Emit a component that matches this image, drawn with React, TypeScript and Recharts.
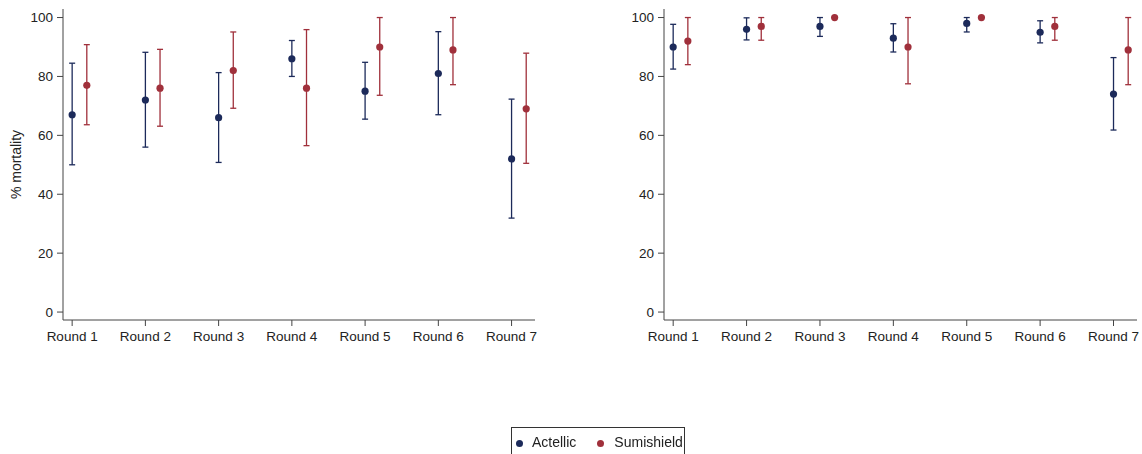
import React from "react";
import { ErrorBar, Scatter, ScatterChart, XAxis, YAxis } from "recharts";

const rounds = ["Round 1", "Round 2", "Round 3", "Round 4", "Round 5", "Round 6", "Round 7"];
const yTicks = [0, 20, 40, 60, 80, 100];

// left panel
const leftActellic = [67, 72, 66, 86, 75, 81, 52];
const leftActellicLo = [50, 56, 50.8, 80, 65.5, 67, 31.9];
const leftActellicHi = [84.5, 88.2, 81.3, 92.2, 84.8, 95.2, 72.3];
const leftSumishield = [77, 76, 82, 76, 90, 89, 69];
const leftSumishieldLo = [63.6, 63.1, 69.2, 56.5, 73.6, 77.2, 50.5];
const leftSumishieldHi = [90.8, 89.2, 95.1, 95.9, 100, 100, 87.9];

// right panel
const rightActellic = [90, 96, 97, 93, 98, 95, 74];
const rightActellicLo = [82.5, 92.4, 93.6, 88.3, 95.1, 91.4, 61.8];
const rightActellicHi = [97.7, 99.9, 100, 97.9, 100, 98.9, 86.4];
const rightSumishield = [92, 97, 100, 90, 100, 97, 89];
const rightSumishieldLo = [84, 92.3, 100, 77.5, 100, 92.3, 77.2];
const rightSumishieldHi = [100, 100, 100, 100, 100, 100, 100];

const NAVY = "#1c2a5a";
const RED = "#a0303b";
const AXIS = "#444";
const FONT = "'Liberation Sans', Arial, sans-serif";

function toPoints(vals: number[], lo: number[], hi: number[], offset: number) {
  return vals.map((v, i) => ({ x: i + 1 + offset, y: v, err: [v - lo[i], hi[i] - v] }));
}

const dot = (color: string) => (p: any) => <circle cx={p.cx} cy={p.cy} r={3.6} fill={color} />;

function YLabel({ viewBox }: any) {
  const cx = 17;
  const cy = viewBox.y + viewBox.height / 2;
  return (
    <text x={cx} y={cy} transform={`rotate(-90, ${cx}, ${cy})`} textAnchor="middle" dominantBaseline="middle" fontSize={14} fill="#222" fontFamily={FONT}>
      % mortality
    </text>
  );
}

function Panel({ actellic, sumishield, width, yWidth, right, showLabel }: any) {
  return (
    <ScatterChart width={width} height={360} margin={{ top: 9, right, bottom: 0, left: 0 }}>
      <XAxis
        type="number"
        dataKey="x"
        domain={[0.875, 7.32]}
        ticks={rounds.map((_, i) => i + 1)}
        tickFormatter={(v: number) => rounds[v - 1]}
        allowDataOverflow
        height={40}
        tickSize={6}
        tickMargin={5}
        stroke={AXIS}
        tick={{ fontSize: 13.5, fill: "#222", fontFamily: FONT }}
      />
      <YAxis
        type="number"
        dataKey="y"
        domain={[-2.7, 102.9]}
        ticks={yTicks}
        allowDataOverflow
        width={yWidth}
        tickSize={6}
        tickMargin={4}
        stroke={AXIS}
        tick={{ fontSize: 13.5, fill: "#222", fontFamily: FONT }}
        label={showLabel ? { content: YLabel } : undefined}
      />
      <Scatter data={actellic} shape={dot(NAVY)} isAnimationActive={false}>
        <ErrorBar dataKey="err" direction="y" width={3} stroke={NAVY} strokeWidth={1.3} />
      </Scatter>
      <Scatter data={sumishield} shape={dot(RED)} isAnimationActive={false}>
        <ErrorBar dataKey="err" direction="y" width={3} stroke={RED} strokeWidth={1.3} />
      </Scatter>
    </ScatterChart>
  );
}

export default function App() {
  const la = toPoints(leftActellic, leftActellicLo, leftActellicHi, 0);
  const ls = toPoints(leftSumishield, leftSumishieldLo, leftSumishieldHi, 0.2);
  const ra = toPoints(rightActellic, rightActellicLo, rightActellicHi, 0);
  const rs = toPoints(rightSumishield, rightSumishieldLo, rightSumishieldHi, 0.2);

  return (
    <div style={{ position: "fixed", left: 0, top: 0, width: 1142, height: 454, background: "#fff", fontFamily: FONT }}>
      <div style={{ position: "absolute", left: 0, top: 0 }}>
        <Panel actellic={la} sumishield={ls} width={560} yWidth={63} right={25} showLabel />
      </div>
      <div style={{ position: "absolute", left: 600, top: 0 }}>
        <Panel actellic={ra} sumishield={rs} width={542} yWidth={64} right={5} showLabel={false} />
      </div>
      <div
        style={{
          position: "absolute",
          left: 511,
          top: 427,
          width: 174,
          height: 32,
          border: "1px solid #333",
          boxSizing: "border-box",
          display: "flex",
          alignItems: "flex-start",
          paddingTop: 6,
          fontSize: 14,
          color: "#222",
        }}
      >
        <span style={{ width: 7, height: 7, borderRadius: 4, background: NAVY, marginLeft: 4, marginTop: 6 }} />
        <span style={{ marginLeft: 9 }}>Actellic</span>
        <span style={{ width: 7, height: 7, borderRadius: 4, background: RED, marginLeft: 21, marginTop: 6 }} />
        <span style={{ marginLeft: 10 }}>Sumishield</span>
      </div>
    </div>
  );
}
